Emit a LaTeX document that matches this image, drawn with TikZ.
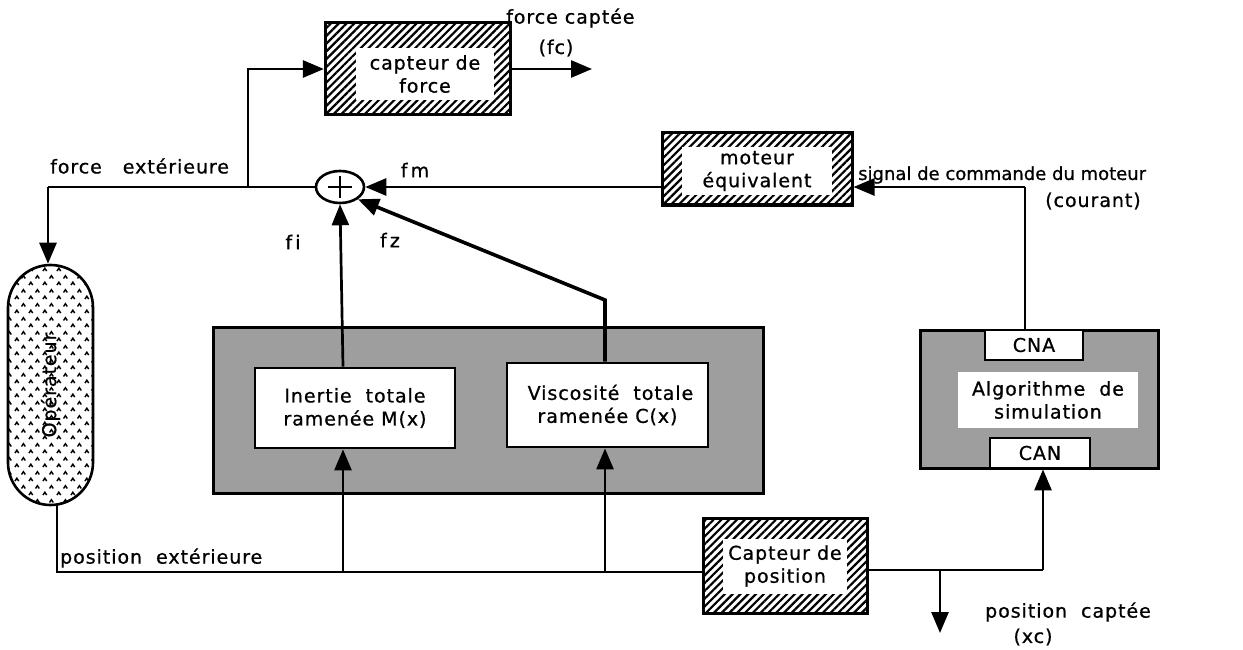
\documentclass[tikz,border=0pt]{standalone}
\usepackage{fontspec}
\setmainfont{DejaVu Sans}[LetterSpace=5,FakeBold=0.8]
\newfontfamily\plainf{DejaVu Sans}[FakeBold=0.8]
\usetikzlibrary{arrows.meta,shapes.geometric,shapes.misc,patterns,patterns.meta}
\tikzdeclarepattern{
  name=carets, type=uncolored,
  bounding box={(0pt,0pt) and (14pt,14pt)},
  tile size={(14pt,14pt)},
  code={
    \draw[line width=1.5pt] (1pt,1pt) -- (3pt,4pt) -- (5pt,1pt);
    \draw[line width=1.5pt] (8pt,8pt) -- (10pt,11pt) -- (12pt,8pt);
  }
}
\begin{document}
\begin{tikzpicture}[x=1pt,y=-1pt,
  every node/.style={font=\fontsize{19}{23}\selectfont, inner sep=0pt, align=center},
  ln/.style={line width=2.7pt},
  arr/.style={line width=2.7pt,-{Triangle[length=21pt,width=17pt]}},
  hatchbox/.style={draw, line width=3pt, pattern={Lines[angle=45,distance=5.5pt,line width=2.2pt]}},
  whitebox/.style={fill=white, draw=none},
  dotbox/.style={draw, line width=3pt, fill=black!38},
  framebox/.style={draw, line width=2.8pt, fill=white},
  lbl/.style={inner sep=0pt}
]
\useasboundingbox (0,0) rectangle (1243,650);

% capteur de force
\node[hatchbox, minimum width=185pt, minimum height=92pt] (cf) at (417.5,69) {};
\node[whitebox, minimum width=138pt, minimum height=52pt] (cfi) at (425,74) {capteur de\\force};

% moteur equivalent
\node[hatchbox, minimum width=190pt, minimum height=72pt] (mot) at (757,169) {};
\node[whitebox, minimum width=150pt, minimum height=48pt] (moti) at (757,171) {moteur\\équivalent};

% sum
\node[draw, ellipse, line width=2.6pt, minimum width=48pt, minimum height=32pt] (sum) at (340,187) {};
\draw[line width=2.6pt] ([xshift=-12pt]sum.center) -- ([xshift=12pt]sum.center);
\draw[line width=2.6pt] ([yshift=-11pt]sum.center) -- ([yshift=11pt]sum.center);

% operateur
\node[draw, rounded rectangle, rounded rectangle arc length=180, rotate=90, line width=2.6pt,
      pattern=carets, minimum width=240pt, minimum height=85pt] (op) at (50.5,385) {};
\node[rotate=90] (opt) at (50.5,385) {Opérateur};

% big box
\node[dotbox, minimum width=550pt, minimum height=166pt] (big) at (488,410) {};
\node[framebox, minimum width=200pt, minimum height=80pt] (in) at (355,408) {Inertie\ \ totale\\ramenée M(x)};
\node[framebox, minimum width=201pt, minimum height=84pt] (vi) at (607.5,405) {\hspace*{6pt}Viscosité\ \ totale\\ramenée C(x)};

% algorithme
\node[dotbox, minimum width=238pt, minimum height=138pt] (algo) at (1039,399) {};
\node[whitebox, minimum width=180pt, minimum height=56pt] (algot) at (1048,400) {Algorithme\ \ de\\simulation};
\node[framebox, minimum width=98pt, minimum height=30pt] (cna) at (1034,345) {CNA};
\node[framebox, minimum width=100pt, minimum height=30pt] (can) at (1040,453) {\raisebox{-5pt}{CAN}};

% capteur de position
\node[hatchbox, minimum width=164pt, minimum height=95pt] (cp) at (785,566) {};
\node[whitebox, minimum width=124pt, minimum height=55pt] (cpi) at (785,566) {Capteur de\\position};

% coordinates
\coordinate (j1) at (48,187);
\coordinate (j2) at (248,187);
\coordinate (j3) at (1025,187);
\coordinate (fcout) at (592,69);
\coordinate (bend) at (605,300);
\coordinate (ob) at (57,504);
\coordinate (pl) at (57,572);
\coordinate (xin) at (343,572);
\coordinate (xvi) at (605,572);
\coordinate (pr) at (1043,570);
\coordinate (xcj) at (940,570);
\coordinate (xcout) at (940,633);

% connectors
\draw[ln] (sum.west) -- (j1);
\draw[arr] (j1) -- (j1 |- op.east);
\draw[arr] (j2) |- (cf.west);
\draw[arr] (cf.east) -- (fcout);
\draw[arr] (sum.east -| mot.west) -- (sum.east);
\draw[arr] (j3) -- (j3 -| mot.east);
\draw[ln] (j3) -- (j3 |- cna.north);
\draw[arr] (in.north -| xin) -- (sum.south);
\draw[arr, line width=3.6pt] (vi.north -| bend) -- (bend) -- (sum.south east);
\draw[ln] (ob) -- (pl) -- (cp.west |- pl);
\draw[arr] (xin) -- (xin |- in.south);
\draw[arr] (xvi) -- (xvi |- vi.south);
\draw[ln] (cp.east |- pr) -- (pr);
\draw[arr] (pr) -- (pr |- can.south);
\draw[arr] (xcj) -- (xcout);

% labels
\node[lbl, anchor=west] (l1) at (506,18) {force captée};
\node[lbl] (l2) at (556,48) {(fc)};
\node[lbl, anchor=west] (l3) at (50,166) {force\ \ \ extérieure};
\node[lbl] (l4) at (415,170) {f\,m};
\node[lbl, anchor=west] (l5) at (858,175) {\plainf\fontsize{18}{22}\selectfont signal de commande du moteur};
\node[lbl] (l6) at (1093,201) {(courant)};
\node[lbl] (l7) at (293,242) {f\,i};
\node[lbl] (l8) at (390,240) {f\,z};
\node[lbl, anchor=west] (l9) at (60,558) {position\ \ extérieure};
\node[lbl, anchor=west] (l10) at (985,612) {position\ \ captée};
\node[lbl] (l11) at (1033,637) {(xc)};
\end{tikzpicture}
\end{document}
